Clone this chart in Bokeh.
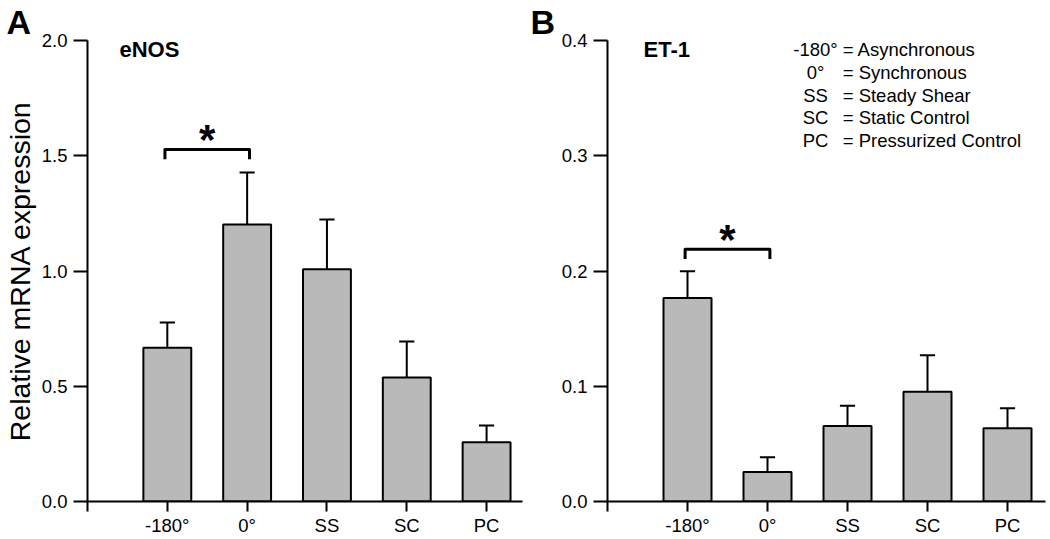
import math
from bokeh.plotting import figure
from bokeh.layouts import row
from bokeh.models import (Range1d, FixedTicker, PrintfTickFormatter, Label,
                          ColumnDataSource, Title)
from bokeh.core.properties import value
from bokeh.embed import file_html
from bokeh.resources import INLINE

# ---------------- data ----------------
categories = ["-180°", "0°", "SS", "SC", "PC"]

enos_mean = [0.667, 1.202, 1.008, 0.538, 0.257]
enos_sem = [0.110, 0.225, 0.215, 0.156, 0.073]

et1_mean = [0.1766, 0.0255, 0.0655, 0.0952, 0.0636]
et1_sem = [0.0231, 0.0129, 0.0175, 0.0318, 0.0174]

enos_ticks = [0.0, 0.5, 1.0, 1.5, 2.0]
et1_ticks = [0.0, 0.1, 0.2, 0.3, 0.4]

legend_abbr = ["-180°", "0°", "SS", "SC", "PC"]
legend_desc = ["= Asynchronous", "= Synchronous", "= Steady Shear",
               "= Static Control", "= Pressurized Control"]

# significance brackets: (first category, second category, bracket height)
enos_sig = ("-180°", "0°", 1.527)
et1_sig = ("-180°", "0°", 0.2188)

FONT = "Liberation Sans"
H = 538


def make_panel(means, sems, ticks, sig, width, bl, br, x_end, title, tx,
               letter, ylabel=None):
    ymax = ticks[-1]
    p = figure(width=width, height=H, x_range=Range1d(0, x_end),
               y_range=Range1d(0, ymax), output_backend="svg",
               toolbar_location=None, title=None,
               min_border_left=bl, min_border_right=br,
               min_border_top=39, min_border_bottom=35)
    p.outline_line_color = None
    p.grid.visible = False
    p.background_fill_color = "white"

    # panel letter as a title placed left of the frame
    p.add_layout(Title(text=letter, align="left", offset=-bl + 5, standoff=0,
                       text_font=FONT, text_font_style="bold",
                       text_font_size="34px", text_color="black"), "above")

    xs = list(range(1, len(categories) + 1))
    upper = [m + s for m, s in zip(means, sems)]
    src = ColumnDataSource(dict(
        x=xs, top=means, upper=upper,
        capl=[x - 0.095 for x in xs], capr=[x + 0.095 for x in xs]))

    p.vbar(x="x", top="top", bottom=0, width=0.6, source=src,
           fill_color="#b9b9b9", line_color="black", line_width=2)
    p.segment(x0="x", y0="top", x1="x", y1="upper", source=src,
              line_color="black", line_width=2)
    p.segment(x0="capl", y0="upper", x1="capr", y1="upper", source=src,
              line_color="black", line_width=2)

    # significance bracket
    i0 = categories.index(sig[0]) + 1
    i1 = categories.index(sig[1]) + 1
    yb = sig[2]
    drop = ymax * 0.021
    p.line([i0 - 0.03, i0 - 0.03, i1 + 0.03, i1 + 0.03],
           [yb - drop, yb, yb, yb - drop],
           line_color="black", line_width=3, line_join="round")
    p.text(x=[(i0 + i1) / 2], y=[yb + ymax * 0.022], text=["*"],
           text_font=value(FONT), text_font_style="bold",
           text_font_size="42px", text_align="center",
           text_baseline="alphabetic", text_color="black")

    # axes
    xa = p.xaxis[0]
    xa.ticker = FixedTicker(ticks=[0] + xs)
    ov = {0: ""}
    for i, c in zip(xs, categories):
        ov[i] = c
    xa.major_label_overrides = ov
    ya = p.yaxis[0]
    ya.ticker = FixedTicker(ticks=ticks)
    ya.formatter = PrintfTickFormatter(format="%.1f")

    for ax in (xa, ya):
        ax.axis_line_width = 2
        ax.axis_line_color = "black"
        ax.major_tick_line_width = 2
        ax.major_tick_line_color = "black"
        ax.major_tick_in = 0
        ax.minor_tick_line_color = None
        ax.major_label_text_font = FONT
        ax.major_label_text_font_size = "18.5px"
        ax.major_label_text_color = "black"
    xa.major_tick_out = 10
    xa.major_label_standoff = 3
    ya.major_tick_out = 14
    ya.major_label_standoff = 6

    if ylabel:
        ya.axis_label = ylabel
        ya.axis_label_text_font = FONT
        ya.axis_label_text_font_size = "28.5px"
        ya.axis_label_text_font_style = "normal"
        ya.axis_label_text_color = "black"
        ya.axis_label_standoff = 3

    # panel title inside the frame
    p.add_layout(Label(x=tx, y=ymax * 0.981, text=title,
                       text_font=FONT, text_font_style="bold",
                       text_font_size="22px", text_color="black",
                       text_baseline="alphabetic"))
    return p


pA = make_panel(enos_mean, enos_sem, enos_ticks, enos_sig, 525, 86, 3, 5.45,
                "eNOS", 0.4, "A", ylabel="Relative mRNA expression")
pB = make_panel(et1_mean, et1_sem, et1_ticks, et1_sig, 522, 82, 2, 5.475,
                "ET-1", 0.45, "B")

# legend text block in panel B
ytop = 0.3918
step = 0.0196
ys = [ytop - i * step for i in range(len(legend_abbr))]
pB.text(x=[2.6] * len(legend_abbr), y=ys, text=legend_abbr,
        text_font=value(FONT), text_font_size="18.5px", text_align="center",
        text_baseline="alphabetic", text_color="black")
pB.text(x=[2.94] * len(legend_desc), y=ys, text=legend_desc,
        text_font=value(FONT), text_font_size="18.5px", text_align="left",
        text_baseline="alphabetic", text_color="black")

layout = row(pA, pB)
open("out.html", "w").write(file_html(layout, INLINE))
